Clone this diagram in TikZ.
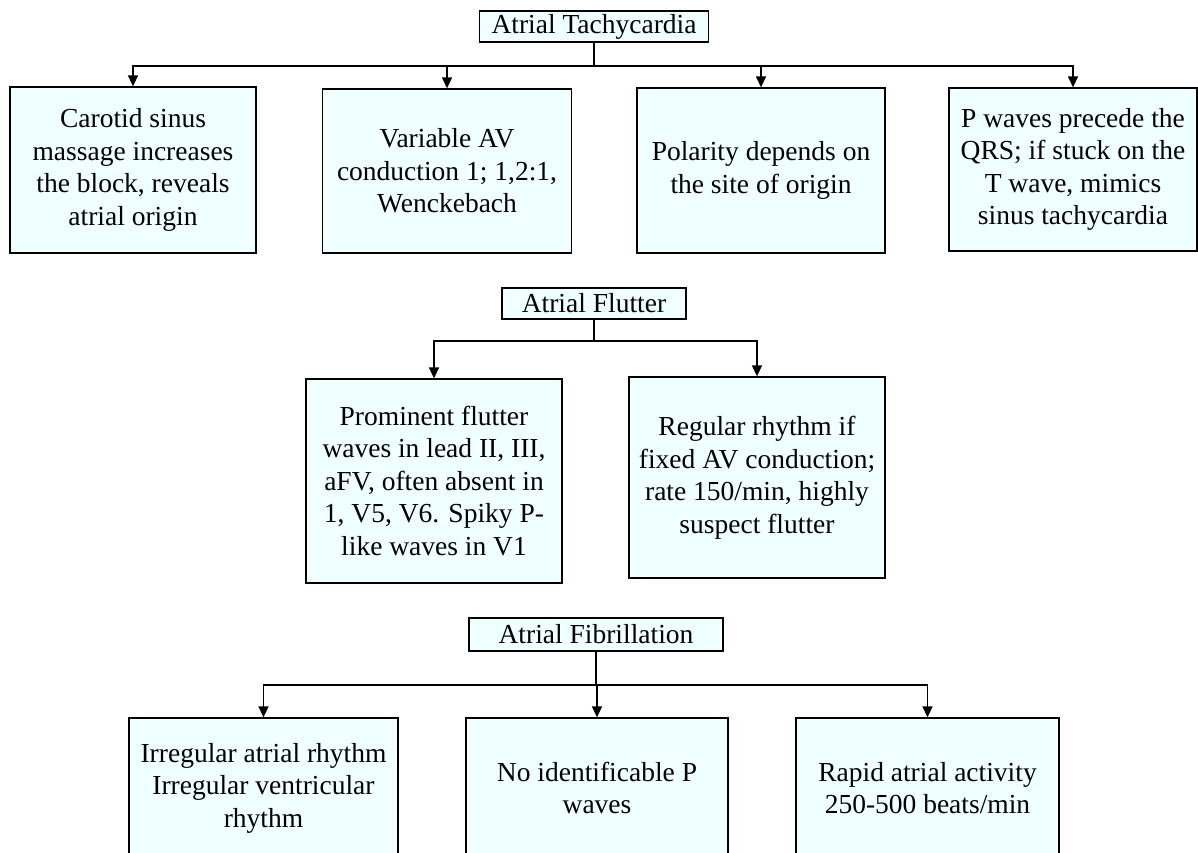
\documentclass[tikz,border=0pt]{standalone}
\usepackage{fontspec}
\setmainfont{Liberation Serif}
\usetikzlibrary{arrows.meta}
\definecolor{boxfill}{HTML}{F0FFFF}
\tikzset{
  box/.style={draw=black, line width=1.3pt, fill=boxfill, align=center, inner sep=0pt,
    font=\fontsize{27.5}{32.5}\selectfont},
  ttl/.style={box, line width=1.1pt, inner sep=0pt},
  arr/.style={draw=black, line width=1.5pt, -{Triangle[length=11pt,width=10pt]}},
  ln/.style={draw=black, line width=1.5pt}
}
\begin{document}
\begin{tikzpicture}[x=1pt,y=-1pt]
\useasboundingbox (0,0) rectangle (1198,852);
\clip (0,0) rectangle (1198,852);
% Row 1
\node[ttl, minimum width=229pt, minimum height=31pt] (t1) at (594,26.5) {Atrial Tachycardia};
\node[box, minimum width=246pt, minimum height=166pt] (b1) at (133,170) {Carotid sinus\\massage increases\\the block, reveals\\atrial origin};
\node[box, minimum width=249pt, minimum height=164pt] (b2) at (447,171) {Variable AV\\conduction 1; 1,2:1,\\Wenckebach};
\node[box, minimum width=248pt, minimum height=165pt] (b3) at (761,170.5) {Polarity depends on\\the site of origin};
\node[box, minimum width=248pt, minimum height=163pt] (b4) at (1073,169.5) {P waves precede the\\QRS; if stuck on the\\T wave, mimics\\sinus tachycardia};
\coordinate (j1) at (594,66);
\draw[ln] (t1.south) -- (j1);
\foreach \b in {b1,b2,b3,b4} \draw[arr] (j1) -| (\b.north);
% Row 2
\node[ttl, minimum width=184pt, minimum height=31pt] (t2) at (594,303.5) {Atrial Flutter};
\node[box, minimum width=256pt, minimum height=204pt] (b5) at (434,481) {Prominent flutter\\waves in lead II, III,\\aFV, often absent in\\1, V5, V6. Spiky P-\\like waves in V1};
\node[box, minimum width=256pt, minimum height=201pt] (b6) at (757,477.5) {Regular rhythm if\\fixed AV conduction;\\rate 150/min, highly\\suspect flutter};
\coordinate (j2) at (594,341);
\draw[ln] (t2.south) -- (j2);
\foreach \b in {b5,b6} \draw[arr] (j2) -| (\b.north);
% Row 3
\node[ttl, minimum width=254pt, minimum height=33pt] (t3) at (596,634.5) {Atrial Fibrillation};
\node[box, minimum width=269pt, minimum height=140pt] (b7) at (263.5,788) {Irregular atrial rhythm\\Irregular ventricular\\rhythm};
\node[box, minimum width=262pt, minimum height=140pt] (b8) at (597,788) {No identificable P\\waves};
\node[box, minimum width=263pt, minimum height=140pt] (b9) at (927.5,788) {Rapid atrial activity\\250-500 beats/min};
\coordinate (j3) at (596,685);
\draw[ln] (t3.south) -- (j3);
\foreach \b in {b7,b8,b9} \draw[arr] (j3) -| (\b.north);
\end{tikzpicture}
\end{document}
